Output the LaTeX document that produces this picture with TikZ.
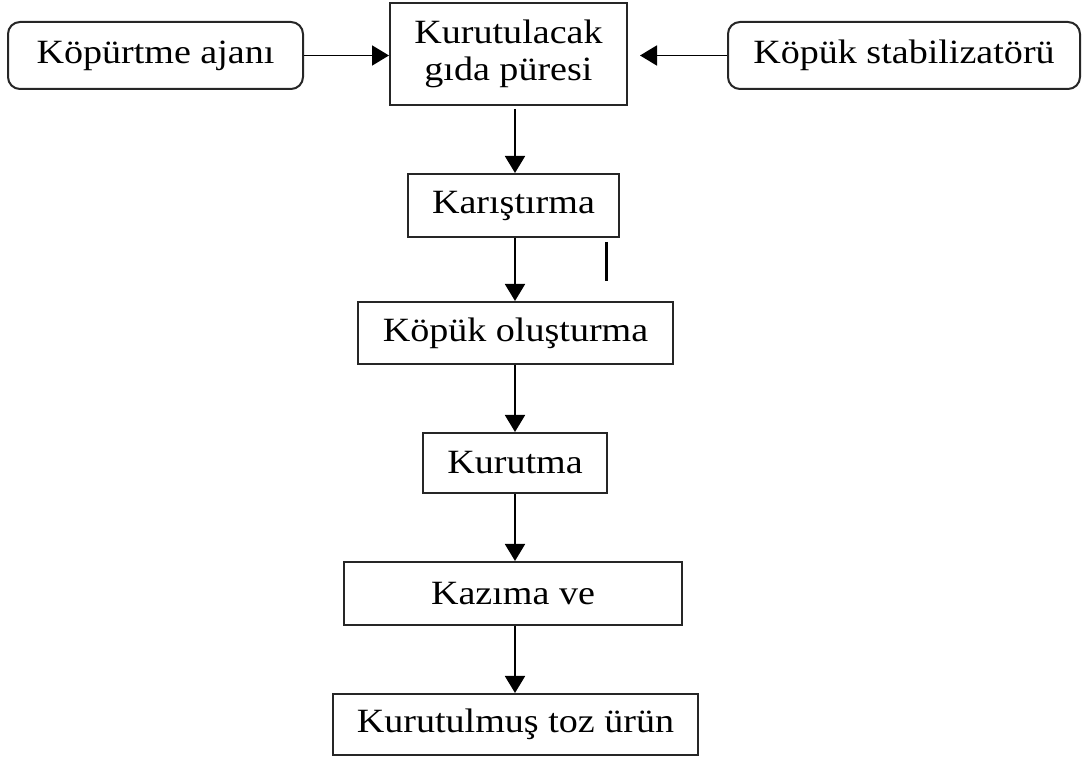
\documentclass[tikz,border=0pt]{standalone}
\usepackage{fontspec}
\setmainfont[FakeStretch=1.12]{Liberation Serif}
\usetikzlibrary{arrows.meta}
\begin{document}
\begin{tikzpicture}[x=0.5pt,y=-0.5pt,
  box/.style={draw=black!85, line width=1pt, rectangle, inner sep=0pt, align=center,
    font=\fontsize{17}{18.5}\selectfont},
  rbox/.style={box, rounded corners=6pt},
  flow/.style={-{Triangle[length=8.5pt,width=10pt]}, line width=0.9pt, black}]
\useasboundingbox (0,0) rectangle (1083,758);
\node[rbox, minimum width=147.5pt, minimum height=33.5pt] (ajan) at (155.5,55.5) {Köpürtme ajanı};
\node[box, minimum width=118.5pt, minimum height=51pt] (pure) at (508.5,54) {Kurutulacak\\gıda püresi};
\node[rbox, minimum width=176pt, minimum height=33.5pt] (stab) at (904,55.5) {Köpük stabilizatörü};
\node[box, minimum width=105.5pt, minimum height=31.5pt] (kar) at (513.5,205.5) {Karıştırma};
\node[box, minimum width=157.5pt, minimum height=31pt] (kop) at (515.5,333) {Köpük oluşturma};
\node[box, minimum width=92pt, minimum height=30pt] (kur) at (515,463) {Kurutma};
\node[box, minimum width=169pt, minimum height=31.5pt] (kaz) at (513,593.5) {Kazıma ve};
\node[box, minimum width=182.5pt, minimum height=30.5pt] (toz) at (515.5,724.5) {Kurutulmuş toz ürün};
\coordinate (spine) at (515,0);
\coordinate (stabtip) at (640,55.5);
\draw[flow] (ajan.east) -- (pure.west |- ajan.east);
\draw[flow] (stab.west) -- (stabtip);
\draw[flow] ([yshift=-1.5pt]pure.south -| spine) -- (kar.north -| spine);
\draw[flow] (kar.south -| spine) -- (kop.north -| spine);
\draw[flow] (kop.south -| spine) -- (kur.north -| spine);
\draw[flow] (kur.south -| spine) -- (kaz.north -| spine);
\draw[flow] (kaz.south -| spine) -- (toz.north -| spine);
\draw[line width=1.5pt] (606,242) -- (606,281);
\end{tikzpicture}
\end{document}
